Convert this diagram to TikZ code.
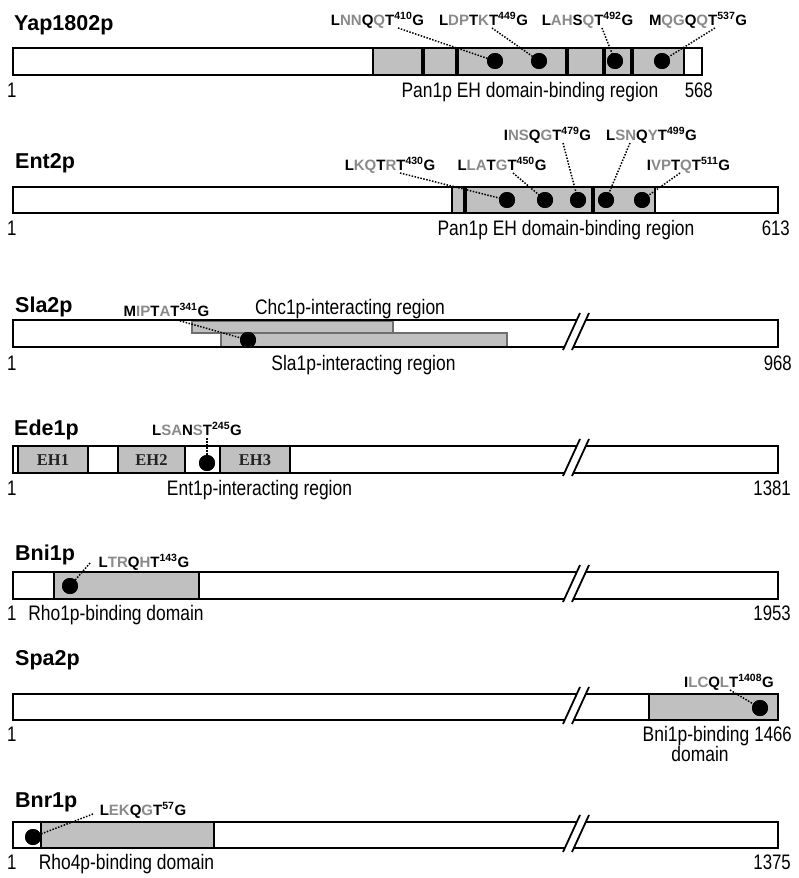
\documentclass[tikz,border=0pt]{standalone}
\usepackage{fontspec}
\setmainfont{Liberation Sans}
\newfontfamily\narrowfont[FakeStretch=0.83]{Liberation Sans}
\newfontfamily\numfont[FakeStretch=0.8]{Liberation Sans}
\newfontfamily\ehfont{Liberation Serif}
\definecolor{boxgray}{HTML}{C0C0C0}
\definecolor{pepgray}{HTML}{8A8A8A}
\definecolor{regedge}{HTML}{6E6E6E}
\definecolor{ehtext}{HTML}{222222}
\newcommand\pepl[6]{#1\textcolor{pepgray}{#2}#3\textcolor{pepgray}{#4}#5\textsuperscript{#6}G}
\newcommand\barbreak[1]{%
  \fill[white] (563.6,{#1+28.5}) -- (577.6,{#1-1.5}) -- (586.6,{#1-1.5}) -- (572.6,{#1+28.5}) -- cycle;
  \draw[brkline] (563,{#1+30}) -- (580,{#1-7});
  \draw[brkline] (572,{#1+30}) -- (589,{#1-7});}
\tikzset{
  title/.style={anchor=base west, inner sep=0pt, font=\fontsize{21.5}{24}\selectfont\bfseries},
  pep/.style={anchor=base, inner sep=0pt, font=\fontsize{15}{18}\selectfont\bfseries},
  reg/.style={anchor=base, inner sep=0pt, font=\narrowfont\fontsize{21}{24}\selectfont},
  num/.style={anchor=base east, inner sep=0pt, font=\numfont\fontsize{21}{24}\selectfont},
  one/.style={anchor=base west, inner sep=0pt, font=\numfont\fontsize{21}{24}\selectfont},
  ehlab/.style={inner sep=0pt, text=ehtext, font=\ehfont\bfseries\fontsize{16.5}{18}\selectfont},
  barfill/.style={fill=white},
  baredge/.style={draw=black, line width=2pt},
  dom/.style={fill=boxgray},
  regbox/.style={fill=boxgray, draw=regedge, line width=1.5pt},
  sepline/.style={line width=1.8pt},
  thicksep/.style={line width=4pt},
  dot/.style={circle, fill=black, inner sep=0pt, minimum size=16pt},
  lead/.style={line width=1.5pt, dash pattern=on 1.5pt off 1.5pt},
  brkline/.style={line width=1.8pt}
}
\begin{document}
\begin{tikzpicture}[x=1pt,y=-1pt]
\useasboundingbox (0,0) rectangle (798,878);
\fill[white] (0,0) rectangle (798,878);

% ---------------- Yap1802p ----------------
\node[title] (t1) at (14,30) {Yap1802p};
\fill[barfill] (13,48) rectangle (702,75);
\fill[dom] (373,48) rectangle (684,75);
\draw[baredge] (13,48) rectangle (702,75);
\draw[sepline] (373,48) -- (373,75) (684,48) -- (684,75);
\draw[thicksep] (423,48) -- (423,75) (457,48) -- (457,75) (567,48) -- (567,75) (604,48) -- (604,75) (632,48) -- (632,75);
\node[pep] (yl1) at (377.5,25) {\pepl{L}{NN}{Q}{Q}{T}{410}};
\node[pep] (yl2) at (483.5,25) {\pepl{L}{DP}{T}{K}{T}{449}};
\node[pep] (yl3) at (587.5,25) {\pepl{L}{AH}{S}{Q}{T}{492}};
\node[pep] (yl4) at (698,25) {\pepl{M}{QG}{Q}{Q}{T}{537}};
\node[dot] (yd1) at (495,61) {};
\node[dot] (yd2) at (539,61) {};
\node[dot] (yd3) at (615,61) {};
\node[dot] (yd4) at (662,61) {};
\coordinate (ys1) at (398,28);
\coordinate (ys2) at (492,28);
\coordinate (ys3) at (602,28);
\coordinate (ys4) at (715,28);
\draw[lead] (ys1) -- (yd1.center);
\draw[lead] (ys2) -- (yd2.center);
\draw[lead] (ys3) -- (yd3.center);
\draw[lead] (ys4) -- (yd4.center);
\node[dot] at (yd1) {};\node[dot] at (yd2) {};\node[dot] at (yd3) {};\node[dot] at (yd4) {};
\node[one] (yn1) at (7,97) {1};
\node[reg] (yr) at (530,97) {Pan1p EH domain-binding region};
\node[num] (yn2) at (713,97) {568};

% ---------------- Ent2p ----------------
\node[title] (t2) at (15,168) {Ent2p};
\fill[barfill] (13,187) rectangle (778,213);
\fill[dom] (452,187) rectangle (655,213);
\draw[baredge] (13,187) rectangle (778,213);
\draw[sepline] (452,187) -- (452,213) (655,187) -- (655,213);
\draw[thicksep] (465,187) -- (465,213) (593,187) -- (593,213);
\node[pep] (el1) at (390,170) {\pepl{L}{KQ}{T}{R}{T}{430}};
\node[pep] (el2) at (502,170) {\pepl{L}{LA}{T}{G}{T}{450}};
\node[pep] (el3) at (547.5,140) {\pepl{I}{NS}{Q}{G}{T}{479}};
\node[pep] (el4) at (651.5,140) {\pepl{L}{SN}{Q}{Y}{T}{499}};
\node[pep] (el5) at (688.5,170) {\pepl{I}{VP}{T}{Q}{T}{511}};
\coordinate (es1) at (400,173);
\coordinate (es2) at (513,173);
\coordinate (es3) at (563,143);
\coordinate (es4) at (630,143);
\coordinate (es5) at (680,173);
\node[dot] (ed1) at (507,200) {};
\node[dot] (ed2) at (545,200) {};
\node[dot] (ed3) at (578,200) {};
\node[dot] (ed4) at (606,200) {};
\node[dot] (ed5) at (642,200) {};
\draw[lead] (es1) -- (ed1.center);
\draw[lead] (es2) -- (ed2.center);
\draw[lead] (es3) -- (ed3.center);
\draw[lead] (es4) -- (ed4.center);
\draw[lead] (es5) -- (ed5.center);
\node[dot] at (ed1) {};\node[dot] at (ed2) {};\node[dot] at (ed3) {};\node[dot] at (ed4) {};\node[dot] at (ed5) {};
\node[one] (en1) at (7,235) {1};
\node[reg] (er) at (566,235) {Pan1p EH domain-binding region};
\node[num] (en2) at (790,235) {613};

% ---------------- Sla2p ----------------
\node[title] (t3) at (15,312) {Sla2p};
\fill[barfill] (13,320) rectangle (778,347);
\draw[regbox] (221,333) rectangle (507,347);
\draw[regbox] (192,321) rectangle (393,333);
\draw[baredge] (13,320) rectangle (778,347);
\barbreak{320}
\node[pep] (sl1) at (166.5,316) {\pepl{M}{IP}{T}{A}{T}{341}};
\coordinate (ss1) at (177,320);
\node[dot] (sd1) at (248,340) {};
\draw[lead] (ss1) -- (sd1.center);
\node[dot] at (sd1) {};
\node[reg] (sr1) at (350,314) {Chc1p-interacting region};
\node[reg] (sr2) at (363.5,370) {Sla1p-interacting region};
\node[one] (sn1) at (7,370) {1};
\node[num] (sn2) at (792,370) {968};

% ---------------- Ede1p ----------------
\node[title] (t4) at (14,435) {Ede1p};
\fill[barfill] (13,446) rectangle (778,473);
\fill[dom] (18,446) rectangle (88,473);
\fill[dom] (118,446) rectangle (185,473);
\fill[dom] (220,446) rectangle (290,473);
\draw[baredge] (13,446) rectangle (778,473);
\draw[line width=1.2pt] (18,446) -- (18,473);
\draw[sepline] (88,446) -- (88,473) (118,446) -- (118,473) (185,446) -- (185,473) (220,446) -- (220,473) (290,446) -- (290,473);
\node[ehlab] (eh1) at (53,460) {EH1};
\node[ehlab] (eh2) at (151.5,460) {EH2};
\node[ehlab] (eh3) at (255,460) {EH3};
\barbreak{446}
\node[pep] (dl1) at (197,435) {\pepl{L}{SA}{N}{S}{T}{245}};
\coordinate (ds1) at (207,438);
\node[dot] (dd1) at (207,463) {};
\draw[lead] (ds1) -- (dd1.center);
\node[dot] at (dd1) {};
\node[one] (dn1) at (7,495) {1};
\node[reg] (dr) at (259.5,495) {Ent1p-interacting region};
\node[num] (dn2) at (791,495) {1381};

% ---------------- Bni1p ----------------
\node[title] (t5) at (15,560) {Bni1p};
\fill[barfill] (13,572) rectangle (778,599);
\fill[dom] (54,572) rectangle (199,599);
\draw[baredge] (13,572) rectangle (778,599);
\draw[sepline] (54,572) -- (54,599) (199,572) -- (199,599);
\barbreak{572}
\node[pep] (bl1) at (144,567) {\pepl{L}{TR}{Q}{H}{T}{143}};
\coordinate (bs1) at (90,563);
\node[dot] (bd1) at (70,586) {};
\draw[lead] (bs1) -- (bd1.center);
\node[dot] at (bd1) {};
\node[one] (bn1) at (7,620) {1};
\node[reg] (br) at (116,620) {Rho1p-binding domain};
\node[num] (bn2) at (791,620) {1953};

% ---------------- Spa2p ----------------
\node[title] (t6) at (15,665) {Spa2p};
\fill[barfill] (13,694) rectangle (778,720);
\fill[dom] (649,694) rectangle (778,720);
\draw[baredge] (13,694) rectangle (778,720);
\draw[sepline] (649,694) -- (649,720);
\barbreak{694}
\node[pep] (pl1) at (729,687) {\pepl{I}{LC}{Q}{L}{T}{1408}};
\coordinate (ps1) at (730,690);
\node[dot] (pd1) at (760,708) {};
\draw[lead] (ps1) -- (pd1.center);
\node[dot] at (pd1) {};
\node[one] (pn1) at (7,741) {1};
\node[reg] (pr1) at (696,741) {Bni1p-binding};
\node[reg] (pr2) at (700,761) {domain};
\node[num] (pn2) at (792,741) {1466};

% ---------------- Bnr1p ----------------
\node[title] (t7) at (15,807) {Bnr1p};
\fill[barfill] (13,822) rectangle (778,848);
\fill[dom] (41,822) rectangle (214,848);
\draw[baredge] (13,822) rectangle (778,848);
\draw[sepline] (41,822) -- (41,848) (214,822) -- (214,848);
\barbreak{822}
\node[pep] (rl1) at (143,815) {\pepl{L}{EK}{Q}{G}{T}{57}};
\coordinate (rs1) at (93,814);
\node[dot] (rd1) at (33,837) {};
\draw[lead] (rs1) -- (rd1.center);
\node[dot] at (rd1) {};
\node[one] (rn1) at (7,869) {1};
\node[reg] (rr) at (126.5,869) {Rho4p-binding domain};
\node[num] (rn2) at (791,869) {1375};
\end{tikzpicture}
\end{document}
